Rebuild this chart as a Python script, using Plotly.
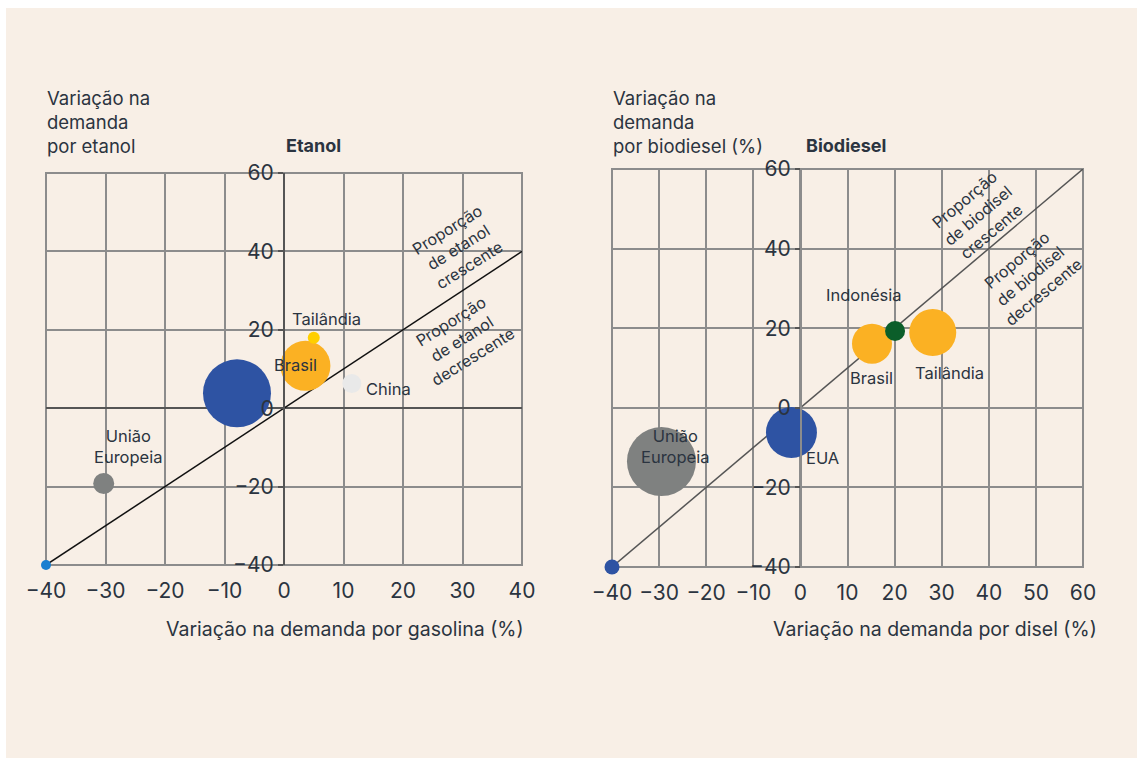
import plotly.graph_objects as go

W, H = 1137, 758

# ---- Etanol panel data ----
eth_names = ["", "União<br>Europeia", "", "Brasil", "Tailândia", "China"]
eth_x = [-40, -30.3, -7.9, 3.6, 5.0, 11.4]          # variação demanda gasolina (%)
eth_y = [-40, -19.2, 3.8, 10.8, 18.0, 6.3]          # variação demanda etanol (%)
eth_size = [10, 21, 68, 50, 12, 19]                 # tamanho da bolha
eth_colors = ["#1a7fd0", "#7f8180", "#2e53a3", "#fbb123", "#ffcf00", "#e9e9e9"]

# ---- Biodiesel panel data ----
bio_names = ["", "União<br>Europeia", "EUA", "Brasil", "Indonésia", "Tailândia"]
bio_x = [-40, -29.5, -1.9, 15.2, 20.1, 28.1]        # variação demanda diesel (%)
bio_y = [-40, -13.5, -6.2, 16.1, 19.3, 18.9]        # variação demanda biodiesel (%)
bio_size = [15, 69, 51, 40, 20, 47]
bio_colors = ["#2e53a3", "#7f8180", "#2e53a3", "#fbb123", "#0b5e2a", "#fbb123"]

# label anchors (data coords) for each panel
eth_label_pos = {"União<br>Europeia": (-26.2, -9.7), "Brasil": (2.0, 11.0),
                 "Tailândia": (7.2, 22.7), "China": (17.6, 4.8)}
bio_label_pos = {"União<br>Europeia": (-26.5, -9.8), "EUA": (4.7, -12.6),
                 "Brasil": (15.1, 7.5), "Indonésia": (13.4, 28.4),
                 "Tailândia": (31.6, 8.8)}

eth_xrange, eth_yrange = [-40, 40], [-40, 60]
bio_xrange, bio_yrange = [-40, 60], [-40, 60]

eth_ytitle = "Variação na<br>demanda<br>por etanol"
bio_ytitle = "Variação na<br>demanda<br>por biodiesel (%)"

FONT = "Inter"
TXT = "#2b3440"
GRID = "#8c8c8c"
BG = "#f8efe6"
LBL = 16.5


def px(x):
    return x / W


def py(y):
    return 1 - y / H


fig = go.Figure()

# y = x reference lines spanning each panel
lo, hi = max(eth_xrange[0], eth_yrange[0]), min(eth_xrange[1], eth_yrange[1])
fig.add_trace(go.Scatter(x=[lo, hi], y=[lo, hi], mode="lines",
                         line=dict(color="#111111", width=1.5),
                         xaxis="x", yaxis="y", hoverinfo="skip", showlegend=False))
lo, hi = max(bio_xrange[0], bio_yrange[0]), min(bio_xrange[1], bio_yrange[1])
fig.add_trace(go.Scatter(x=[lo, hi], y=[lo, hi], mode="lines",
                         line=dict(color="#555555", width=1.5),
                         xaxis="x2", yaxis="y2", hoverinfo="skip", showlegend=False))

fig.add_trace(go.Scatter(x=eth_x, y=eth_y, mode="markers", text=eth_names,
                         marker=dict(size=eth_size, sizemode="diameter", color=eth_colors,
                                     opacity=1, line=dict(width=0)),
                         cliponaxis=False, xaxis="x", yaxis="y", showlegend=False))
fig.add_trace(go.Scatter(x=bio_x, y=bio_y, mode="markers", text=bio_names,
                         marker=dict(size=bio_size, sizemode="diameter", color=bio_colors,
                                     opacity=1, line=dict(width=0)),
                         cliponaxis=False, xaxis="x2", yaxis="y2", showlegend=False))

annotations = []
for name, (ax, ay) in eth_label_pos.items():
    annotations.append(dict(x=ax, y=ay, xref="x", yref="y", text=name, showarrow=False,
                            xanchor="center", yanchor="middle",
                            font=dict(size=LBL, color=TXT, family=FONT)))
for name, (ax, ay) in bio_label_pos.items():
    annotations.append(dict(x=ax, y=ay, xref="x2", yref="y2", text=name, showarrow=False,
                            xanchor="center", yanchor="middle",
                            font=dict(size=LBL, color=TXT, family=FONT)))

# rotated region notes along the diagonal
notes = [
    ("x", "y", 29.4, 41.1, "Proporção<br>de etanol<br>crescente", -32),
    ("x", "y", 29.9, 17.6, "Proporção<br>de etanol<br>decrescente", -32),
    ("x2", "y2", 37.6, 48.2, "Proporção<br>de biodisel<br>crescente", -40),
    ("x2", "y2", 48.8, 33.2, "Proporção<br>de biodisel<br>decrescente", -40),
]
for xr, yr, ax, ay, txt, ang in notes:
    annotations.append(dict(x=ax, y=ay, xref=xr, yref=yr, text=txt, textangle=ang,
                            xanchor="center", yanchor="middle", showarrow=False,
                            font=dict(size=16, color=TXT, family=FONT)))

# panel titles
annotations += [
    dict(x=px(313), y=py(146), xref="paper", yref="paper", text="<b>Etanol</b>",
         xanchor="center", yanchor="middle", showarrow=False,
         font=dict(size=18, color=TXT, family=FONT)),
    dict(x=px(846), y=py(146), xref="paper", yref="paper", text="<b>Biodiesel</b>",
         xanchor="center", yanchor="middle", showarrow=False,
         font=dict(size=18, color=TXT, family=FONT)),
]
# vertical-axis titles
for x0, txt in ((45, eth_ytitle), (611, bio_ytitle)):
    annotations.append(dict(x=px(x0), y=py(85), xref="paper", yref="paper",
                            xanchor="left", yanchor="top", align="left", text=txt,
                            showarrow=False,
                            font=dict(size=18.5, color=TXT, family=FONT)))
# horizontal-axis titles
annotations += [
    dict(x=px(345), y=py(629), xref="paper", yref="paper",
         text="Variação na demanda por gasolina (%)", showarrow=False,
         xanchor="center", yanchor="middle",
         font=dict(size=19.5, color=TXT, family=FONT)),
    dict(x=px(935), y=py(629), xref="paper", yref="paper",
         text="Variação na demanda por disel (%)", showarrow=False,
         xanchor="center", yanchor="middle",
         font=dict(size=19.5, color=TXT, family=FONT)),
]

tickfont = dict(size=21, color=TXT, family=FONT)


def xaxis(domain, rng, zerocolor, anchor):
    return dict(domain=domain, range=rng, dtick=10, tick0=0, showgrid=True,
                gridcolor=GRID, gridwidth=2, zeroline=True, zerolinecolor=zerocolor,
                zerolinewidth=2, showline=False, ticks="outside", ticklen=7,
                tickcolor="rgba(0,0,0,0)", tickfont=tickfont, anchor=anchor,
                automargin=False, fixedrange=True)


def yaxis(domain, rng, pos, linecolor, zerocolor):
    return dict(domain=domain, range=rng, dtick=20, tick0=0, showgrid=True,
                gridcolor=GRID, gridwidth=2, zeroline=True, zerolinecolor=zerocolor,
                zerolinewidth=2, showline=True, linecolor=linecolor, linewidth=2,
                ticks="outside", ticklen=5, tickwidth=2, tickcolor="#555555",
                tickfont=tickfont, anchor="free", position=pos,
                automargin=False, fixedrange=True)


# panel background and frame around each plotting area
shapes = [dict(type="rect", xref="paper", yref="paper", x0=px(6), x1=1, y0=0, y1=py(8),
               fillcolor=BG, line=dict(width=0), layer="below")]
for xr, yr in (("x domain", "y domain"), ("x2 domain", "y2 domain")):
    shapes.append(dict(type="rect", xref=xr, yref=yr, x0=0, x1=1, y0=0, y1=1,
                       line=dict(color=GRID, width=2), fillcolor="rgba(0,0,0,0)",
                       layer="below"))

fig.update_layout(
    width=W, height=H,
    margin=dict(l=0, r=0, t=0, b=0, pad=0, autoexpand=False),
    paper_bgcolor="white", plot_bgcolor="rgba(0,0,0,0)",
    font=dict(family=FONT, color=TXT),
    xaxis=xaxis([px(46), px(522)], eth_xrange, "#555555", "y"),
    yaxis=yaxis([py(565), py(173)], eth_yrange, px(284), "#555555", "#555555"),
    xaxis2=xaxis([px(612), px(1083)], bio_xrange, GRID, "y2"),
    yaxis2=yaxis([py(567), py(169)], bio_yrange, px(801), GRID, GRID),
    annotations=annotations,
    shapes=shapes,
    showlegend=False,
)

fig.write_html(
    "out.html",
    post_script="document.body.style.margin='0px';"
                "document.body.style.overflow='hidden';"
                "document.documentElement.style.overflow='hidden';",
)
